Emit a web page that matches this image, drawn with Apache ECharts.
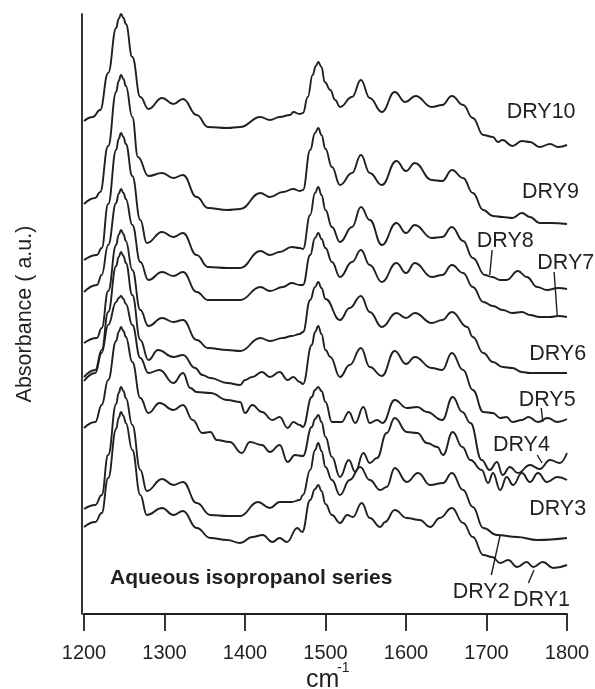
<!DOCTYPE html>
<html><head><meta charset="utf-8">
<script src="https://cdn.jsdelivr.net/npm/echarts@6/dist/echarts.min.js"></script>
<style>html,body{margin:0;padding:0;background:#fff}#c{width:595px;height:689px}</style>
</head><body><div id="c"></div>
<script>
// ---- data: [wavenumber (cm-1), stacked absorbance (a.u.)] ----
const seriesNames = ['DRY10','DRY9','DRY8','DRY7','DRY6','DRY5','DRY4','DRY3','DRY2','DRY1'];
const xTicks = [1200,1300,1400,1500,1600,1700,1800];

const dry10 = [[1200,493],[1211,497],[1220,504],[1230,541],[1240,586],[1243,595],[1246,600],[1249,596],[1252,590],[1260,557],[1270,517],[1280,505],[1297,516],[1311,510],[1323,515],[1340,499],[1354,487],[1378,486],[1394,487],[1419,497],[1431,494],[1443,497],[1456,499],[1460,502],[1468,500],[1472,501],[1478,517],[1484,539],[1488,548],[1491,552],[1495,547],[1499,532],[1506,524],[1512,514],[1518,507],[1533,517],[1544,534],[1555,516],[1570,502],[1586,522],[1599,512],[1612,518],[1632,507],[1645,509],[1657,518],[1671,509],[1683,496],[1696,479],[1708,477],[1714,472],[1720,474],[1732,468],[1744,473],[1754,472],[1766,467],[1779,470],[1789,467],[1800,469]];
const dry9 = [[1200,410],[1214,416],[1220,422],[1230,468],[1240,522],[1243,533],[1246,539],[1249,535],[1252,528],[1260,497],[1267,457],[1280,438],[1297,441],[1311,436],[1323,439],[1340,417],[1354,406],[1378,404],[1394,405],[1419,421],[1431,417],[1447,422],[1460,425],[1468,423],[1472,424],[1481,464],[1487,481],[1491,486],[1495,479],[1500,465],[1508,447],[1518,429],[1533,441],[1544,459],[1555,441],[1570,429],[1588,453],[1600,443],[1611,451],[1632,434],[1645,433],[1657,444],[1671,436],[1683,421],[1696,404],[1708,398],[1720,397],[1732,396],[1744,401],[1754,397],[1766,391],[1779,391],[1800,390]];
const dry8 = [[1200,354],[1216,359],[1222,366],[1230,410],[1240,464],[1243,475],[1246,481],[1249,477],[1252,470],[1260,438],[1270,394],[1278,371],[1297,382],[1311,377],[1323,381],[1340,359],[1354,347],[1378,346],[1394,346],[1419,363],[1431,359],[1443,362],[1458,367],[1468,366],[1472,365],[1481,399],[1487,421],[1491,427],[1495,419],[1500,404],[1508,387],[1518,372],[1533,387],[1544,407],[1555,394],[1570,369],[1588,391],[1600,381],[1611,389],[1632,376],[1645,377],[1657,387],[1671,373],[1683,356],[1698,339],[1707,337],[1717,334],[1725,334],[1739,343],[1750,337],[1763,327],[1775,324],[1789,326],[1800,325]];
const dry7 = [[1200,322],[1216,329],[1222,339],[1230,369],[1240,411],[1243,420],[1246,425],[1249,421],[1252,415],[1260,389],[1270,352],[1280,334],[1297,342],[1311,338],[1323,342],[1340,322],[1354,314],[1378,314],[1394,314],[1419,327],[1431,323],[1447,327],[1458,331],[1468,329],[1472,329],[1481,359],[1487,376],[1491,381],[1495,375],[1500,366],[1508,352],[1518,337],[1533,352],[1544,364],[1555,349],[1570,332],[1588,351],[1600,341],[1611,351],[1632,337],[1645,339],[1657,349],[1671,341],[1683,327],[1696,312],[1708,308],[1720,304],[1732,301],[1744,302],[1754,299],[1766,297],[1779,297],[1789,298],[1800,297]];
const dry6 = [[1200,271],[1216,276],[1222,286],[1230,323],[1240,369],[1243,379],[1246,384],[1249,380],[1252,373],[1260,344],[1270,304],[1280,288],[1297,296],[1311,292],[1323,294],[1340,274],[1354,266],[1378,264],[1394,263],[1419,276],[1431,273],[1447,276],[1458,278],[1468,280],[1472,282],[1481,314],[1487,327],[1491,332],[1495,326],[1500,315],[1518,294],[1530,306],[1544,318],[1555,302],[1570,287],[1588,301],[1600,296],[1611,301],[1632,291],[1645,294],[1657,302],[1676,287],[1683,277],[1696,261],[1708,252],[1720,247],[1732,246],[1744,242],[1754,241],[1766,241],[1800,241]];
const dry5 = [[1200,237],[1214,244],[1222,264],[1230,302],[1240,348],[1243,357],[1246,362],[1249,358],[1252,351],[1260,319],[1270,274],[1280,254],[1292,264],[1311,257],[1323,259],[1338,246],[1347,239],[1357,236],[1378,231],[1394,229],[1400,234],[1409,237],[1421,242],[1431,237],[1443,242],[1453,234],[1460,237],[1468,232],[1472,230],[1483,269],[1487,282],[1491,288],[1495,280],[1500,264],[1506,257],[1518,237],[1530,249],[1544,266],[1555,247],[1570,238],[1586,263],[1600,250],[1611,257],[1632,246],[1645,244],[1657,261],[1671,244],[1683,224],[1696,202],[1708,201],[1717,196],[1725,197],[1732,192],[1744,194],[1752,197],[1764,192],[1776,196],[1788,192],[1800,195]];
const dry4 = [[1200,233],[1214,241],[1222,261],[1230,289],[1240,312],[1243,316],[1246,318],[1249,315],[1252,310],[1260,289],[1270,256],[1280,241],[1294,244],[1311,231],[1323,241],[1332,226],[1340,222],[1357,221],[1378,214],[1394,212],[1400,201],[1409,209],[1421,202],[1434,194],[1443,197],[1453,186],[1460,192],[1468,189],[1472,187],[1483,217],[1487,224],[1491,227],[1495,223],[1500,212],[1508,192],[1520,192],[1529,202],[1537,191],[1547,207],[1555,191],[1564,194],[1571,191],[1586,214],[1601,206],[1614,207],[1626,202],[1645,194],[1658,217],[1670,202],[1680,191],[1694,154],[1704,144],[1713,152],[1720,139],[1729,147],[1739,141],[1754,149],[1766,145],[1779,154],[1791,151],[1800,161]];
const dry3 = [[1200,186],[1214,192],[1222,209],[1230,234],[1240,273],[1243,282],[1246,287],[1249,283],[1252,277],[1260,252],[1270,216],[1280,201],[1294,211],[1311,204],[1323,209],[1335,194],[1347,181],[1357,182],[1365,174],[1381,172],[1396,161],[1406,172],[1421,169],[1431,162],[1443,169],[1453,152],[1462,159],[1472,158],[1483,187],[1487,195],[1491,199],[1495,192],[1500,177],[1508,157],[1518,137],[1529,154],[1537,142],[1547,161],[1555,151],[1564,156],[1576,181],[1586,196],[1601,182],[1614,181],[1626,171],[1639,167],[1646,159],[1658,182],[1670,167],[1680,154],[1694,144],[1702,131],[1708,141],[1717,124],[1725,137],[1733,129],[1744,141],[1754,132],[1764,141],[1775,132],[1788,137],[1800,134]];
const dry2 = [[1200,105],[1214,109],[1222,119],[1230,159],[1240,210],[1243,221],[1246,227],[1249,223],[1252,216],[1260,189],[1270,144],[1278,123],[1297,135],[1311,129],[1323,132],[1340,111],[1357,99],[1378,98],[1394,98],[1416,112],[1431,106],[1443,112],[1458,112],[1468,114],[1472,119],[1481,144],[1487,164],[1491,171],[1495,163],[1500,147],[1508,134],[1518,119],[1530,134],[1543,147],[1555,134],[1568,124],[1576,127],[1586,146],[1601,132],[1615,141],[1630,129],[1646,131],[1657,141],[1671,124],[1683,107],[1696,86],[1713,79],[1738,77],[1763,74],[1800,76]];
const dry1 = [[1200,87],[1214,92],[1222,101],[1230,136],[1240,185],[1243,196],[1246,202],[1249,198],[1252,191],[1260,164],[1270,119],[1278,99],[1297,106],[1311,99],[1323,103],[1340,86],[1357,76],[1378,74],[1394,71],[1409,77],[1422,79],[1434,72],[1443,76],[1452,72],[1465,86],[1471,82],[1481,114],[1487,125],[1491,129],[1495,123],[1500,110],[1508,99],[1518,91],[1527,99],[1534,97],[1545,111],[1555,96],[1568,87],[1574,92],[1586,104],[1601,96],[1617,94],[1630,87],[1642,96],[1657,106],[1671,91],[1683,77],[1696,59],[1707,57],[1717,51],[1727,54],[1738,47],[1750,52],[1758,47],[1770,52],[1783,46],[1800,49]];

// labels: [text, wavenumber at left edge, value at text middle]
const labelAnchors = [['DRY10',1725,502],['DRY9',1744,422],['DRY8',1688,373],['DRY7',1763,351],['DRY6',1753,260],['DRY5',1740,214],['DRY4',1708,169],['DRY3',1753,105],['DRY2',1658,22],['DRY1',1733,14]];
// leader lines: series name -> [wn1, v1, wn2, v2]
const leaders = {DRY8:[1707,364,1704,339],DRY7:[1784,342,1788,297],DRY5:[1768,206,1770,192],DRY4:[1763,159,1769,151],DRY2:[1706,39,1717,79],DRY1:[1752,31,1759,44]};

const allData = [dry10,dry9,dry8,dry7,dry6,dry5,dry4,dry3,dry2,dry1];
const ink = '#231f20';
const FONT = '"Liberation Sans", Arial, sans-serif';

const chart = echarts.init(document.getElementById('c'), null, {renderer:'canvas'});
const series = seriesNames.map((n,i)=>{
  const s = {name:n,type:'line',data:allData[i],showSymbol:false,smooth:0.45,smoothMonotone:'x',clip:false,
    lineStyle:{color:ink,width:1.9},itemStyle:{color:ink},silent:true};
  if (leaders[n]) {
    const L = leaders[n];
    s.markLine = {silent:true,symbol:['none','none'],label:{show:false},
      lineStyle:{color:ink,width:1.4,type:'solid'},
      data:[[{coord:[L[0],L[1]]},{coord:[L[2],L[3]]}]]};
  }
  return s;
});

chart.setOption({
  animation:false,
  grid:{left:84,right:28,top:14,bottom:75},
  xAxis:{type:'value',min:xTicks[0],max:xTicks[xTicks.length-1],interval:100,
    axisLine:{show:true,onZero:false,lineStyle:{color:ink,width:1.8}},
    axisTick:{show:true,inside:false,length:17,lineStyle:{color:ink,width:1.8}},
    axisLabel:{color:ink,fontSize:20,fontFamily:FONT,margin:29,formatter:v=>String(v)},
    splitLine:{show:false}},
  yAxis:{type:'value',min:0,max:600,offset:2,
    axisLine:{show:true,lineStyle:{color:ink,width:1.8}},
    axisTick:{show:false},axisLabel:{show:false},splitLine:{show:false},
    name:'Absorbance ( a.u.)',nameLocation:'middle',nameGap:46,nameRotate:90,
    nameTextStyle:{color:ink,fontSize:21.5,fontFamily:FONT}},
  series:series
});

const g = [];
labelAnchors.forEach(([t,wn,v])=>{
  const p = chart.convertToPixel({gridIndex:0},[wn,v]);
  g.push({type:'text',x:p[0],y:p[1],silent:true,
    style:{text:t,fill:ink,font:'21.5px '+FONT,textAlign:'left',verticalAlign:'middle',textVerticalAlign:'middle'}});
});
g.push({type:'text',x:110,y:578,silent:true,
  style:{text:'Aqueous isopropanol series',fill:ink,font:'bold 21px '+FONT,textAlign:'left',verticalAlign:'middle',textVerticalAlign:'middle'}});
g.push({type:'text',x:306,y:680,silent:true,
  style:{text:'cm',fill:ink,font:'25px '+FONT,textAlign:'left',verticalAlign:'middle',textVerticalAlign:'middle'}});
g.push({type:'text',x:337,y:668,silent:true,
  style:{text:'-1',fill:ink,font:'14px '+FONT,textAlign:'left',verticalAlign:'middle',textVerticalAlign:'middle'}});
chart.setOption({graphic:{elements:g}});
</script>
</body></html>
